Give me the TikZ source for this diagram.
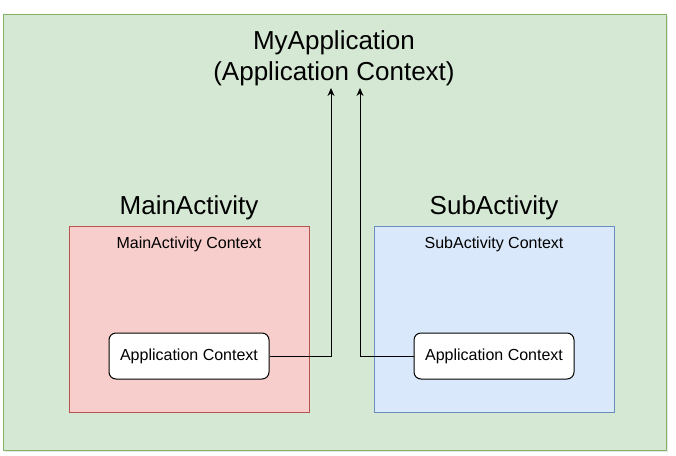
\documentclass[tikz,border=0pt]{standalone}
\usepackage{fontspec}
\setmainfont{Liberation Sans}
\usepackage{xcolor}
\usepackage{tikz}
\usetikzlibrary{arrows.meta}
\definecolor{appfill}{HTML}{D5E8D4}
\definecolor{appline}{HTML}{82B366}
\definecolor{mainfill}{HTML}{F8CECC}
\definecolor{mainline}{HTML}{B85450}
\definecolor{subfill}{HTML}{DAE8FC}
\definecolor{subline}{HTML}{6C8EBF}

\tikzset{
    frame/.style={draw, line width=1pt, inner sep=0pt, outer sep=0pt, anchor=north west},
    ctxbox/.style={draw=black, fill=white, line width=1pt, rounded corners=7pt,
        minimum width=160pt, minimum height=46pt, inner sep=0pt,
        font=\fontsize{16}{19}\selectfont},
    bigtext/.style={font=\fontsize{26}{31}\selectfont, align=center},
    smalltext/.style={font=\fontsize{16}{19}\selectfont},
    link/.style={-{Stealth[length=8pt,width=7pt]}, line width=1pt}
}

\begin{document}
\begin{tikzpicture}[x=1pt,y=-1pt]
    \useasboundingbox (0,0) rectangle (676,455);

    % Application container
    \fill[black!10] (5,16) rectangle (668,452);
    \node[frame, draw=appline, fill=appfill, minimum width=663pt, minimum height=436pt] (app) at (3,14) {};
    \node[bigtext] (apptitle) at (334,58) {MyApplication\\(Application Context)};

    % Activities
    \node[frame, draw=mainline, fill=mainfill, minimum width=240pt, minimum height=186pt] (main) at (69,226) {};
    \node[frame, draw=subline, fill=subfill, minimum width=240pt, minimum height=186pt] (sub) at (374,226) {};
    \node[bigtext] (maintitle) at (189,208) {MainActivity};
    \node[bigtext] (subtitle) at (494,208) {SubActivity};
    \node[smalltext] (mainctx) at (189,244) {MainActivity Context};
    \node[smalltext] (subctx) at (494,244) {SubActivity Context};

    % Application Context held by each activity
    \node[ctxbox] (mainapp) at (189,356) {Application Context};
    \node[ctxbox] (subapp) at (494,356) {Application Context};

    % References up to the application
    \coordinate (tipL) at (331,88);
    \coordinate (tipR) at (360,88);
    \draw[link] (mainapp.east) -| (tipL);
    \draw[link] (subapp.west) -| (tipR);
\end{tikzpicture}
\end{document}
